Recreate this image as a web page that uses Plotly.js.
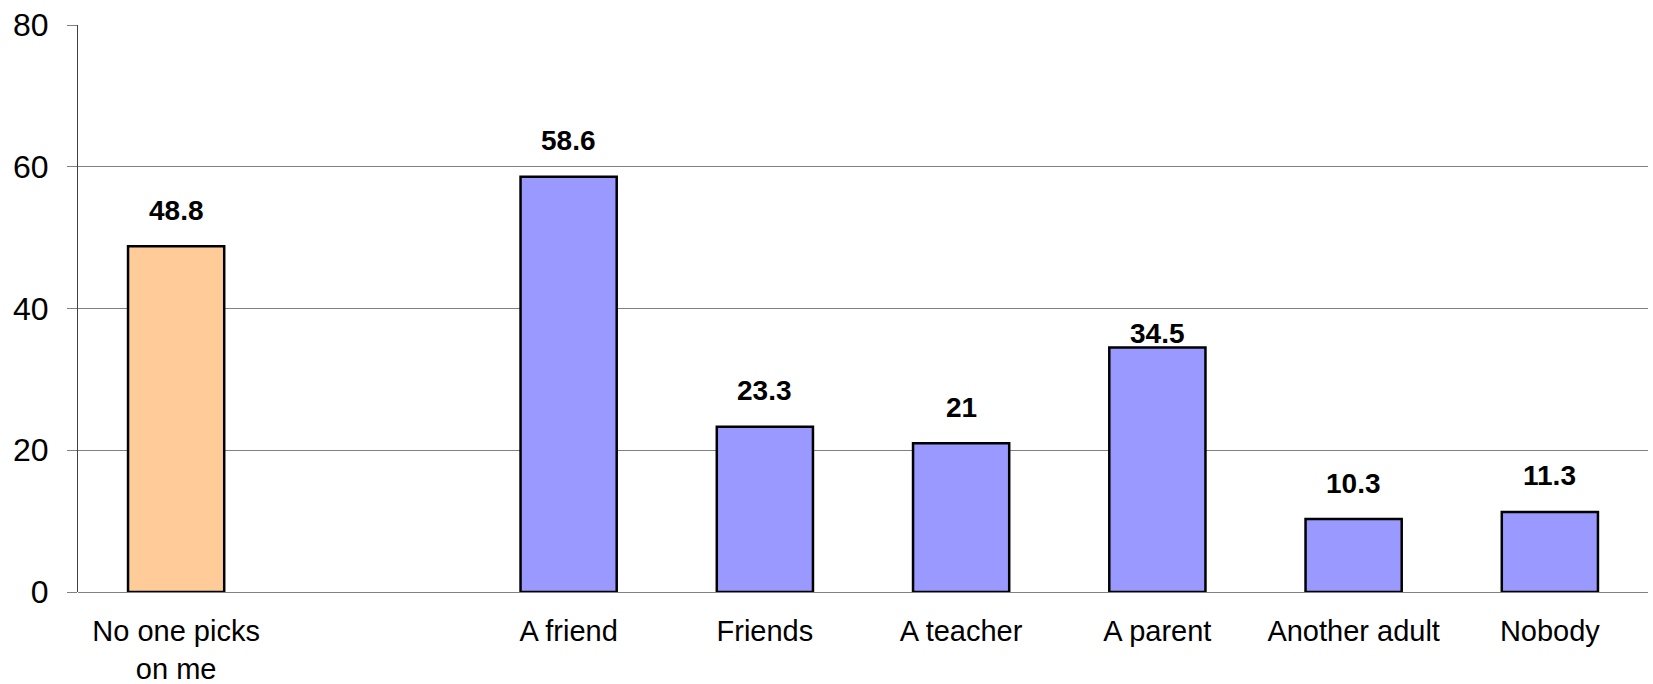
<!DOCTYPE html>
<html>
<head>
<meta charset="utf-8">
<script src="https://cdn.plot.ly/plotly-3.0.1.min.js"></script>
<style>html,body{margin:0;padding:0;background:#fff;}#chart{width:1653px;height:684px;}</style>
</head>
<body>
<div id="chart"></div>
<script>
// Data
const categories = ['No one picks<br>on me', ' ', 'A friend', 'Friends', 'A teacher', 'A parent', 'Another adult', 'Nobody'];
const values = [48.8, null, 58.6, 23.3, 21, 34.5, 10.3, 11.3];
const labelTexts = ['48.8', '', '58.6', '23.3', '21', '34.5', '10.3', '11.3'];
const yTickVals = [0, 20, 40, 60, 80];

// Styles
const ORANGE = '#FFCC99', BLUE = '#9999FF';
const barColors = categories.map((c, i) => i === 0 ? ORANGE : BLUE);
const labelShift = categories.map((c, i) => i === 5 ? 14 : 36);
const FONT = 'Liberation Sans, Arial, sans-serif';

const trace = {
  type: 'bar',
  x: categories,
  y: values,
  marker: {color: barColors, line: {color: '#000', width: 2.5}},
  hoverinfo: 'x+y'
};

const annotations = [];
categories.forEach((c, i) => {
  if (values[i] === null) return;
  annotations.push({
    x: c, y: values[i], xref: 'x', yref: 'y',
    text: '<b>' + labelTexts[i] + '</b>',
    showarrow: false, yanchor: 'middle', yshift: labelShift[i],
    font: {family: FONT, size: 28, color: '#000'}
  });
});

const layout = {
  width: 1653, height: 684,
  margin: {l: 78, r: 5, t: 25, b: 92},
  paper_bgcolor: '#fff', plot_bgcolor: '#fff',
  showlegend: false,
  bargap: 0.51,
  xaxis: {
    type: 'category',
    categoryorder: 'array', categoryarray: categories,
    range: [-0.5, 7.5],
    showgrid: false, zeroline: false, showline: false,
    ticks: '', ticklabelstandoff: 19,
    tickfont: {family: FONT, size: 29, color: '#000'},
    fixedrange: true
  },
  yaxis: {
    range: [0, 80], tickvals: yTickVals,
    showgrid: true, gridcolor: '#808080', gridwidth: 1,
    zeroline: true, zerolinecolor: '#808080', zerolinewidth: 1,
    showline: true, linecolor: '#404040', linewidth: 1,
    ticks: 'outside', ticklen: 10, tickcolor: '#808080', tickwidth: 1,
    ticklabelstandoff: 12,
    tickfont: {family: FONT, size: 32, color: '#000'},
    fixedrange: true
  },
  annotations: annotations
};

Plotly.newPlot('chart', [trace], layout, {displayModeBar: false, staticPlot: true});
</script>
</body>
</html>
